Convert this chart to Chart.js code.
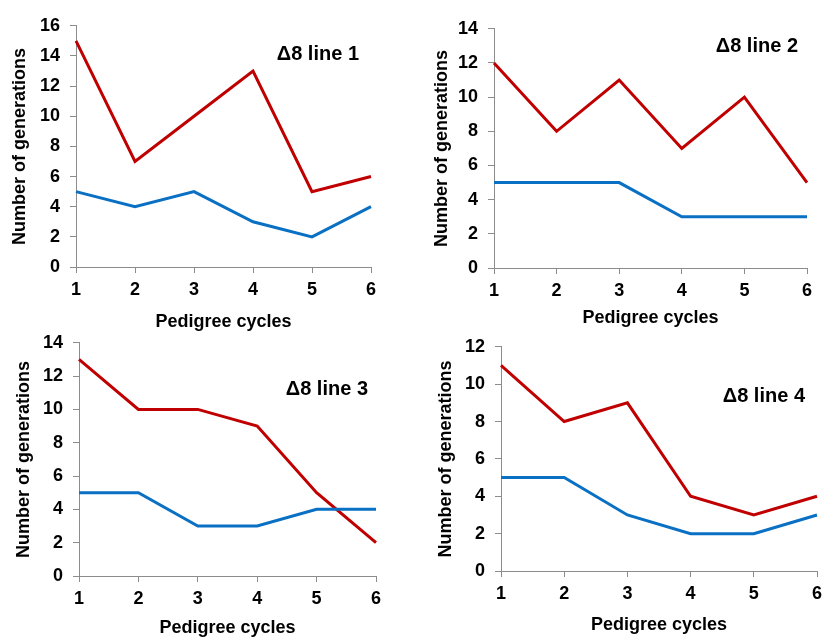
<!DOCTYPE html>
<html>
<head>
<meta charset="utf-8">
<script src="https://cdn.jsdelivr.net/npm/chart.js@4"></script>
<style>
  body { margin: 0; background: #fff; }
  #wrap { position: relative; width: 823px; height: 642px; overflow: hidden; }
  #wrap canvas { position: absolute; }
</style>
</head>
<body>
<div id="wrap"></div>
<script>
var cycles = [1, 2, 3, 4, 5, 6];
var panelNames = ['\u03948 line 1', '\u03948 line 2', '\u03948 line 3', '\u03948 line 4'];
var redLine1 = [15, 7, 10, 13, 5, 6];
var blueLine1 = [5, 4, 5, 3, 2, 4];
var redLine2 = [12, 8, 11, 7, 10, 5];
var blueLine2 = [5, 5, 5, 3, 3, 3];
var redLine3 = [13, 10, 10, 9, 5, 2];
var blueLine3 = [5, 5, 3, 3, 4, 4];
var redLine4 = [11, 8, 9, 4, 3, 4];
var blueLine4 = [5, 5, 3, 2, 2, 3];
var yMax = [16, 14, 14, 12];

// page layout of each panel (plot area box, axis sizes, label offsets)
var panels = [
    { red: redLine1, blue: blueLine1, left: 76, top: 15, right: 371, bottom: 267, cl: 0, xh: 66, tpad: 9, lblDx: 12, lblDy: 29 },
    { red: redLine2, blue: blueLine2, left: 494, top: 18, right: 807, bottom: 268, cl: 420, xh: 61, tpad: 11, lblDx: 9, lblDy: 18 },
    { red: redLine3, blue: blueLine3, left: 79, top: 332, right: 376, bottom: 576, cl: 0, xh: 63, tpad: 13, lblDx: 8, lblDy: 47 },
    { red: redLine4, blue: blueLine4, left: 501, top: 336, right: 817, bottom: 571, cl: 425, xh: 65, tpad: 10, lblDx: 12, lblDy: 50 }
];

var font = 'Liberation Sans, Arial, sans-serif';
var axisGray = '#8c8c8c';
var padTop = 10, padRight = 12;

var panelLabel = {
    id: 'panelLabel',
    afterDraw: function (chart) {
        var o = chart.options.plugins.panelLabel;
        var a = chart.chartArea;
        var ctx = chart.ctx;
        ctx.save();
        ctx.font = 'bold 20px ' + font;
        ctx.fillStyle = '#000';
        ctx.textAlign = 'right';
        ctx.textBaseline = 'middle';
        ctx.fillText(o.text, a.right - o.dx, a.top + o.dy);
        ctx.restore();
    }
};

var wrap = document.getElementById('wrap');
panels.forEach(function (p, i) {
    var yw = p.left - p.cl;
    var ctop = p.top - padTop;
    var w = p.right - p.cl + padRight;
    var h = p.bottom - ctop + p.xh;
    var canvas = document.createElement('canvas');
    canvas.width = w;
    canvas.height = h;
    canvas.style.left = p.cl + 'px';
    canvas.style.top = ctop + 'px';
    wrap.appendChild(canvas);

    new Chart(canvas.getContext('2d'), {
        type: 'line',
        data: {
            labels: cycles,
            datasets: [{
                data: p.blue,
                borderColor: '#0a70c4',
                borderWidth: 3,
                pointRadius: 0,
                tension: 0
            }, {
                data: p.red,
                borderColor: '#c00000',
                borderWidth: 3,
                pointRadius: 0,
                tension: 0
            }]
        },
        options: {
            responsive: false,
            animation: false,
            layout: { padding: { top: padTop, right: padRight, left: 0, bottom: 0 } },
            plugins: {
                legend: { display: false },
                tooltip: { enabled: false },
                panelLabel: { text: panelNames[i], dx: p.lblDx, dy: p.lblDy }
            },
            scales: {
                x: {
                    offset: false,
                    grid: { drawOnChartArea: false, drawTicks: true, tickLength: 6, color: axisGray },
                    border: { color: axisGray, width: 1 },
                    ticks: { color: '#000', padding: 6, font: { family: font, size: 18, weight: 'bold' } },
                    title: {
                        display: true,
                        text: 'Pedigree cycles',
                        color: '#000',
                        padding: 0,
                        font: { family: font, size: 18, weight: 'bold' }
                    },
                    afterFit: function (scale) { scale.height = p.xh; }
                },
                y: {
                    min: 0,
                    max: yMax[i],
                    grid: { drawOnChartArea: false, drawTicks: true, tickLength: 6, color: axisGray },
                    border: { color: axisGray, width: 1 },
                    ticks: { stepSize: 2, color: '#000', padding: 10, font: { family: font, size: 18, weight: 'bold' } },
                    title: {
                        display: true,
                        text: 'Number of generations',
                        color: '#000',
                        padding: { top: p.tpad, bottom: 0 },
                        font: { family: font, size: 18, weight: 'bold' }
                    },
                    afterFit: function (scale) { scale.width = yw; }
                }
            }
        },
        plugins: [panelLabel]
    });
});
</script>
</body>
</html>
